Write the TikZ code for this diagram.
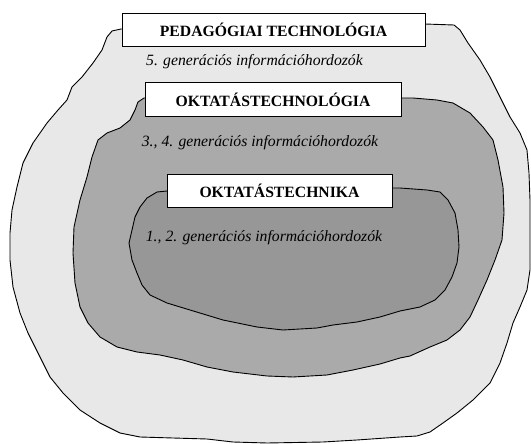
\documentclass[tikz,border=0pt]{standalone}
\usepackage{fontspec}
\setmainfont{Liberation Serif}
\usetikzlibrary{positioning}
\definecolor{outerzone}{HTML}{E8E8E8}
\definecolor{middlezone}{HTML}{AAAAAA}
\definecolor{innerzone}{HTML}{979797}
\tikzset{
  zone/.style={draw=black,line width=0.9pt,line join=round},
  titlebox/.style={draw=black,fill=white,line width=0.8pt,inner sep=0pt,
    font=\bfseries\fontsize{15.7}{17}\selectfont},
  genlabel/.style={inner sep=0pt,font=\itshape\fontsize{15.7}{17}\selectfont}
}

\begin{document}
\begin{tikzpicture}[x=1pt,y=-1pt]
\useasboundingbox (0,0) rectangle (531,444);
\fill[white] (0,0) rectangle (531,444);
% outer zone
\draw[zone,fill=outerzone] (121,29) -- (112,31) -- (107,37) -- (102,50) -- (93,63)
  -- (82,77) -- (72,87) -- (67,100) -- (58,110) -- (47,123) -- (33,143) -- (23,163)
  -- (17,187) -- (12,210) -- (10,233) -- (10,260) -- (13,287) -- (20,313) -- (28,333)
  -- (38,353) -- (50,377) -- (63,393) -- (80,410) -- (100,423) -- (120,433) -- (140,437)
  -- (173,438) -- (207,439) -- (233,442) -- (267,443) -- (323,442) -- (357,440)
  -- (400,437) -- (417,436) -- (430,432) -- (443,423) -- (457,413) -- (473,400)
  -- (490,383) -- (500,363) -- (507,343) -- (513,323) -- (520,307) -- (527,290)
  -- (530,270) -- (530,200) -- (529,173) -- (527,150) -- (520,133) -- (510,117)
  -- (500,97) -- (490,77) -- (480,60) -- (468,43) -- (460,30) -- (454,25) -- (425,24)
  -- cycle;
% middle zone
\draw[zone,fill=middlezone] (144,98) -- (138,102) -- (135,110) -- (130,120) -- (120,128)
  -- (107,133) -- (98,140) -- (92,157) -- (87,177) -- (80,200) -- (74,227) -- (73,253)
  -- (75,283) -- (80,307) -- (88,323) -- (100,337) -- (117,347) -- (137,352) -- (160,355)
  -- (183,360) -- (207,367) -- (233,372) -- (267,376) -- (293,377) -- (327,375)
  -- (353,370) -- (380,364) -- (400,358) -- (410,356) -- (430,347) -- (447,340)
  -- (460,330) -- (470,317) -- (478,300) -- (487,280) -- (495,260) -- (502,240)
  -- (504,213) -- (503,187) -- (498,160) -- (493,140) -- (483,127) -- (470,113)
  -- (453,103) -- (437,100) -- (413,98) -- (400,98) -- cycle;
% inner zone
\draw[zone,fill=innerzone] (167,191) -- (157,192) -- (147,198) -- (140,207) -- (135,217)
  -- (132,230) -- (129,243) -- (132,260) -- (137,273) -- (142,285) -- (150,295)
  -- (167,303) -- (190,310) -- (223,320) -- (257,327) -- (283,330) -- (317,328)
  -- (333,325) -- (357,322) -- (380,317) -- (400,311) -- (420,307) -- (435,300)
  -- (445,290) -- (452,277) -- (457,263) -- (459,247) -- (458,230) -- (455,213)
  -- (448,200) -- (440,192) -- (427,190) -- (400,188) -- (392,188) -- cycle;

\node[titlebox,minimum width=303pt,minimum height=33pt] (pedtech) at (273.5,29.5)
  {PEDAGÓGIAI TECHNOLÓGIA};
\node[titlebox,minimum width=256pt,minimum height=34pt] (okttech) at (273,99.5)
  {OKTATÁSTECHNOLÓGIA};
\node[titlebox,minimum width=225pt,minimum height=33pt] (oktechn) at (279.5,190.5)
  {OKTATÁSTECHNIKA};

\node[genlabel] (gen5) at (254.5,62) {5. generációs információhordozók};
\node[genlabel] (gen34) at (260,143) {3., 4. generációs információhordozók};
\node[genlabel] (gen12) at (264,238) {1., 2. generációs információhordozók};
\end{tikzpicture}
\end{document}
